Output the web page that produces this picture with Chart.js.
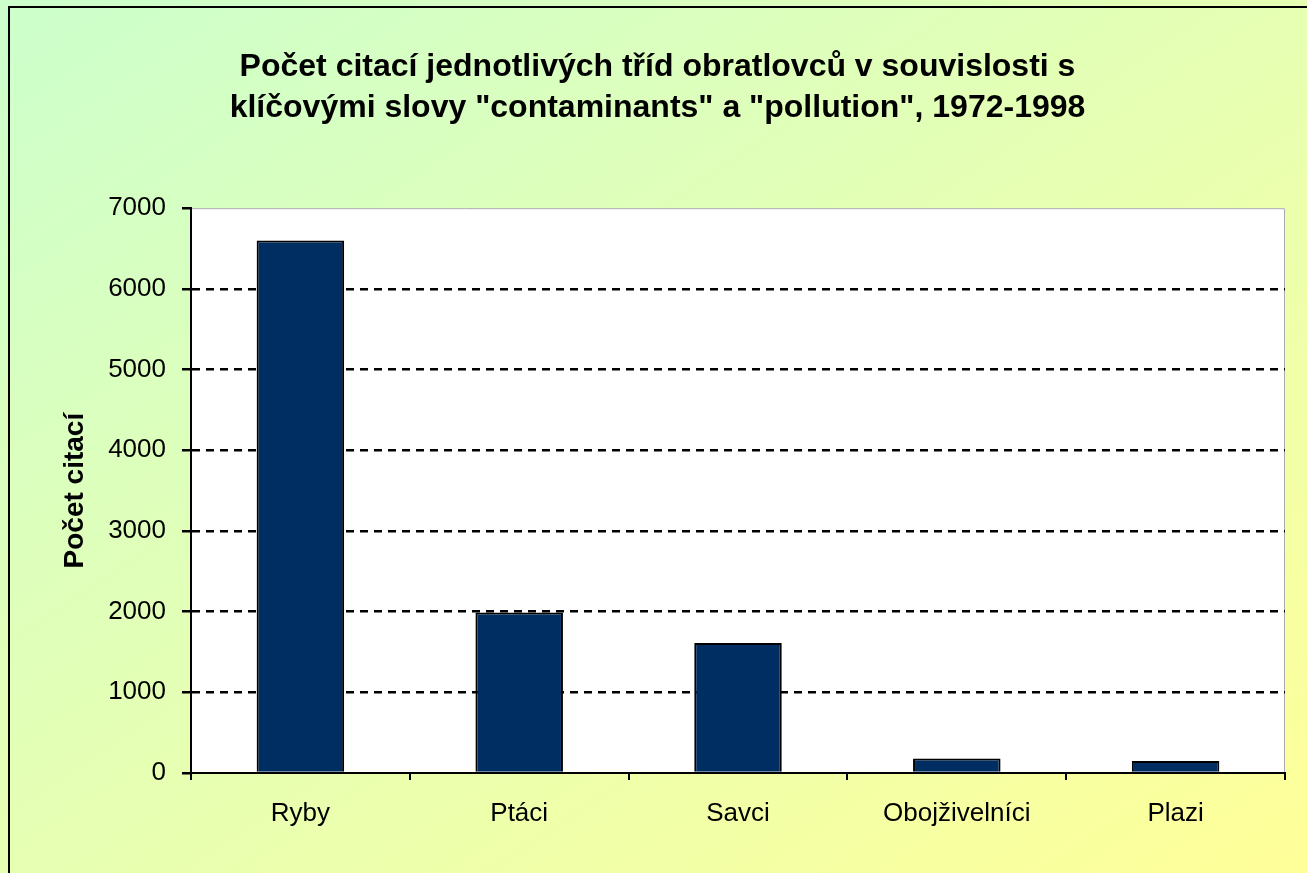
<!DOCTYPE html>
<html lang="cs">
<head>
<meta charset="utf-8">
<title>Počet citací</title>
<script src="https://cdn.jsdelivr.net/npm/chart.js@4/dist/chart.umd.min.js"></script>
<style>
  html, body { margin: 0; padding: 0; overflow: hidden; }
  body {
    width: 1307px; height: 873px; position: relative;
    background: linear-gradient(to bottom right, #ccffcc 0%, #e6ffb3 50%, #ffff99 100%);
  }
  #frame {
    position: absolute; left: 8px; top: 6px; width: 1320px; height: 900px;
    border: 2px solid #000; box-sizing: border-box; pointer-events: none;
  }
  #chart { position: absolute; left: 0; top: 0; }
</style>
</head>
<body>
<canvas id="chart" width="1307" height="873"></canvas>
<div id="frame"></div>
<script>
// kategorie a hodnoty
const categories = ['Ryby', 'Ptáci', 'Savci', 'Obojživelníci', 'Plazi'];
const citations = [6600, 1990, 1610, 180, 150];
const yMin = 0;
const yMax = 7000;
const yStep = 1000;
const titleLines = [
    'Počet citací jednotlivých tříd obratlovců v souvislosti s',
    'klíčovými slovy "contaminants" a "pollution", 1972-1998'
];
const yTitle = 'Počet citací';

const FONT = 'Arial, "Liberation Sans", sans-serif';

// bílé pozadí plochy grafu
const plotBg = {
    id: 'plotBg',
    beforeDraw(chart) {
        const { ctx, chartArea: a } = chart;
        ctx.save();
        ctx.fillStyle = '#fff';
        ctx.fillRect(a.left, a.top, a.right - a.left, a.bottom - a.top);
        ctx.strokeStyle = '#aaa';
        ctx.lineWidth = 1;
        ctx.beginPath();
        ctx.moveTo(a.left, a.top + 0.5);
        ctx.lineTo(a.right - 0.5, a.top + 0.5);
        ctx.lineTo(a.right - 0.5, a.bottom);
        ctx.stroke();
        ctx.restore();
    }
};

const ctx = document.getElementById('chart').getContext('2d');
new Chart(ctx, {
    type: 'bar',
    data: {
        labels: categories,
        datasets: [{
            data: citations,
            backgroundColor: '#002e63',
            borderColor: '#000',
            borderWidth: 2,
            barPercentage: 0.4,
            categoryPercentage: 1
        }]
    },
    options: {
        responsive: false,
        animation: false,
        devicePixelRatio: 1,
        layout: { padding: { left: 30, right: 22, top: 0, bottom: 0 } },
        plugins: {
            legend: { display: false },
            tooltip: { enabled: false },
            title: {
                display: true,
                text: titleLines,
                color: '#000',
                font: { family: FONT, size: 32, weight: 'bold', lineHeight: 1.3 },
                padding: { top: 46, bottom: 79 }
            }
        },
        scales: {
            x: {
                grid: {
                    display: true,
                    drawOnChartArea: false,
                    drawTicks: true,
                    offset: true,
                    tickLength: 7,
                    color: '#000',
                    lineWidth: 2
                },
                border: { color: '#000', width: 2 },
                ticks: {
                    color: '#000',
                    font: { family: FONT, size: 26 },
                    padding: 18,
                    maxRotation: 0
                },
                afterFit(scale) { scale.height = 100; }
            },
            y: {
                min: yMin,
                max: yMax,
                ticks: {
                    stepSize: yStep,
                    color: '#000',
                    font: { family: FONT, size: 26 },
                    padding: 16,
                    callback: v => String(v)
                },
                grid: {
                    color: c => (c.tick && (c.tick.value === yMax || c.tick.value === yMin)) ? 'rgba(0,0,0,0)' : '#000',
                    tickColor: '#000',
                    lineWidth: 2.5,
                    tickLength: 9
                },
                border: { color: '#000', width: 2, dash: [8, 6] },
                title: {
                    display: true,
                    text: yTitle,
                    color: '#000',
                    font: { family: FONT, size: 28, weight: 'bold' },
                    padding: { top: 28, bottom: 0 }
                },
                afterFit(scale) { scale.width = 161; }
            }
        }
    },
    plugins: [plotBg]
});
</script>
</body>
</html>
